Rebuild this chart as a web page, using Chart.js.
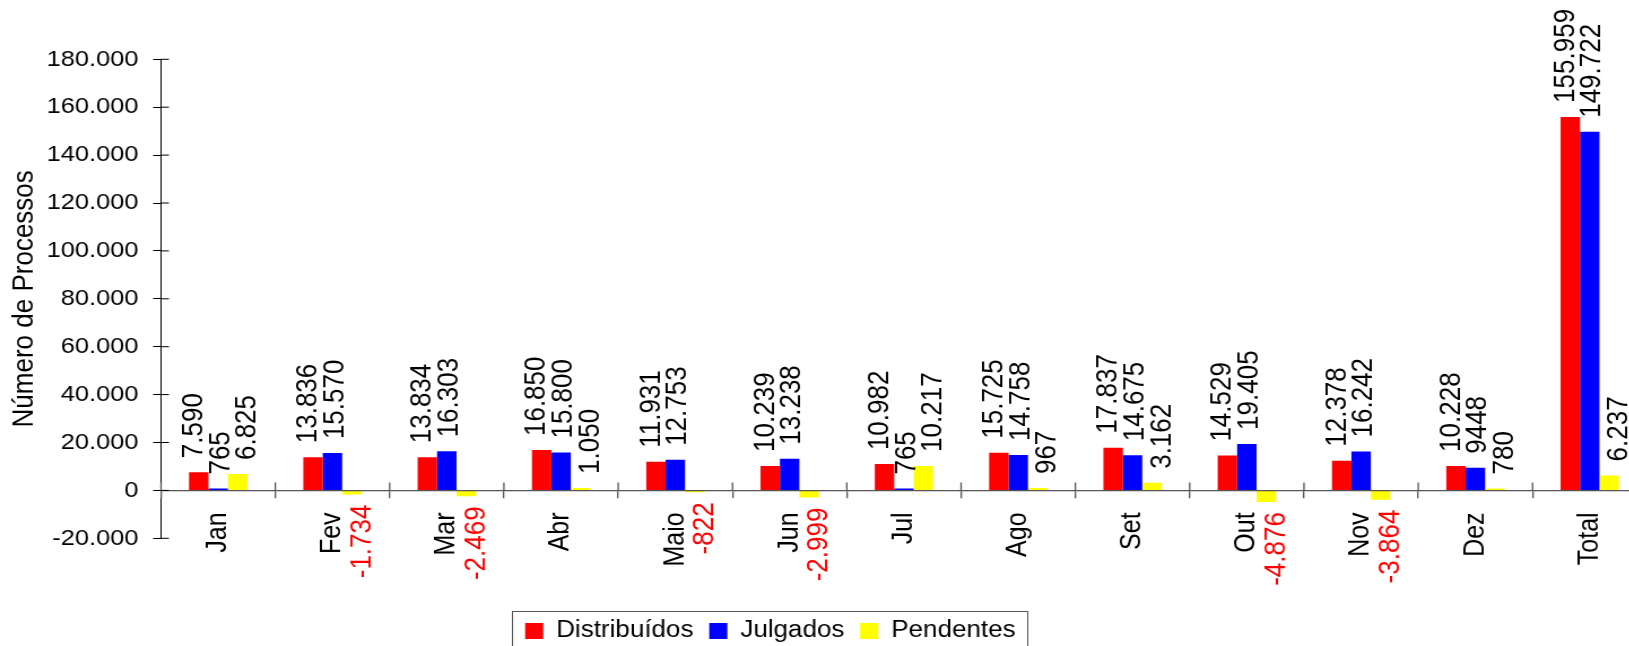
<!DOCTYPE html>
<html><head><meta charset="utf-8">
<script src="https://cdn.jsdelivr.net/npm/chart.js@4.4.1/dist/chart.umd.min.js"></script>
<style>
html,body{margin:0;padding:0;overflow:hidden;background:#fff;}
#wrap{width:1470px;height:680px;transform:scaleX(1.13);transform-origin:0 0;}
</style></head><body>
<div id="wrap"><canvas id="c" width="1470" height="680"></canvas></div>
<script>
const categories = ['Jan','Fev','Mar','Abr','Maio','Jun','Jul','Ago','Set','Out','Nov','Dez','Total'];
const distribuidos = [7590,13836,13834,16850,11931,10239,10982,15725,17837,14529,12378,10228,155959];
const julgados = [765,15570,16303,15800,12753,13238,765,14758,14675,19405,16242,9448,149722];
const pendentes = [6825,-1734,-2469,1050,-822,-2999,10217,967,3162,-4876,-3864,780,6237];
const seriesNames = ['Distribuídos','Julgados','Pendentes'];
const yMin = -20000, yMax = 180000, yStep = 20000;

const FONT = '"Liberation Sans", Arial, Helvetica, sans-serif';
Chart.defaults.font.family = FONT;
Chart.defaults.color = '#000';

function fmt(v){
  const s = Math.abs(Math.round(v)).toString().replace(/\B(?=(\d{3})+(?!\d))/g, '.');
  return (v < 0 ? '-' : '') + s;
}
const shownText = [distribuidos.map(fmt), julgados.map(fmt), pendentes.map(fmt)];
shownText[1][11] = '9448'; // printed without separator in the source

// horizontal nudge of each series' value labels (style only)
const labelNudge = [-4, 2.5, 9];

const valueLabels = {
  id: 'valueLabels',
  afterDatasetsDraw(chart){
    const ctx = chart.ctx;
    ctx.save();
    ctx.font = '26px ' + FONT;
    ctx.textBaseline = 'middle';
    chart.data.datasets.forEach((ds, i) => {
      const meta = chart.getDatasetMeta(i);
      meta.data.forEach((el, j) => {
        const v = ds.data[j];
        ctx.save();
        if (v >= 0) {
          ctx.translate(el.x + labelNudge[i], el.y - 14);
          ctx.rotate(-Math.PI / 2);
          ctx.textAlign = 'left';
          ctx.fillStyle = '#000';
        } else {
          ctx.translate(el.x + labelNudge[i], el.y + 10);
          ctx.rotate(-Math.PI / 2);
          ctx.textAlign = 'right';
          ctx.fillStyle = '#ff0000';
        }
        ctx.fillText(shownText[i][j], 0, 0);
        ctx.restore();
      });
    });
    ctx.restore();
  }
};

const innerTicks = {
  id: 'innerTicks',
  afterDraw(chart){
    const {ctx, chartArea, scales} = chart;
    const x = scales.x, y = scales.y;
    ctx.save();
    ctx.lineWidth = 1; ctx.strokeStyle = '#000';
    y.ticks.forEach(t => {
      const py = y.getPixelForValue(t.value);
      ctx.beginPath(); ctx.moveTo(chartArea.left, py); ctx.lineTo(chartArea.left + 7, py); ctx.stroke();
    });
    const zy = y.getPixelForValue(0);
    const half = (x.getPixelForValue(1) - x.getPixelForValue(0)) / 2;
    ctx.strokeStyle = '#555'; ctx.lineWidth = 1.3;
    for (let i = 0; i <= categories.length; i++) {
      const px = x.getPixelForValue(i) - half;
      ctx.beginPath(); ctx.moveTo(px, zy - 8); ctx.lineTo(px, zy); ctx.stroke();
    }
    ctx.restore();
  }
};

const LEGEND_SHIFT = -47;
const legendFrame = {
  id: 'legendFrame',
  afterLayout(chart){
    const lg = chart.legend;
    if (lg) { lg.left += LEGEND_SHIFT; lg.right += LEGEND_SHIFT; }
  },
  afterDraw(chart){
    const lg = chart.legend;
    if (!lg || !lg.legendHitBoxes || !lg.legendHitBoxes.length) return;
    const hb = lg.legendHitBoxes;
    const l = hb[0].left - 12;
    const r = hb[hb.length - 1].left + hb[hb.length - 1].width + 10;
    const t = lg.top + 14 + 11.5 - 20;
    const ctx = chart.ctx;
    ctx.save();
    ctx.strokeStyle = '#555'; ctx.lineWidth = 1;
    ctx.strokeRect(Math.round(l) + 0.5, Math.round(t) + 0.5, Math.round(r - l), 50);
    ctx.restore();
  }
};

new Chart(document.getElementById('c'), {
  type: 'bar',
  data: {
    labels: categories,
    datasets: [
      {label: seriesNames[0], data: distribuidos, backgroundColor: '#ff0000', xAxisID: 'x', yAxisID: 'y'},
      {label: seriesNames[1], data: julgados, backgroundColor: '#0000ff', xAxisID: 'x', yAxisID: 'y'},
      {label: seriesNames[2], data: pendentes, backgroundColor: '#ffff00', xAxisID: 'x', yAxisID: 'y'}
    ]
  },
  options: {
    responsive: false,
    animation: false,
    datasets: {bar: {categoryPercentage: 0.51, barPercentage: 1.0, borderWidth: 0}},
    layout: {padding: {top: 59.3, left: 0, right: 12.6, bottom: 27.5}},
    plugins: {
      tooltip: {enabled: false},
      legend: {
        position: 'bottom',
        labels: {boxWidth: 16, boxHeight: 16, padding: 14, color: '#000', font: {size: 23, family: FONT}}
      }
    },
    scales: {
      x: {
        type: 'category',
        position: {y: 0},
        grid: {display: true, drawOnChartArea: false, drawTicks: true, tickLength: 7, color: '#555', lineWidth: 1.3, offset: true, z: 1},
        border: {display: true, color: '#555', width: 1.3, z: 1},
        ticks: {minRotation: 90, maxRotation: 90, autoSkip: false, padding: 15, color: '#000', font: {size: 25, family: FONT}}
      },
      x2: {
        type: 'category',
        position: 'bottom',
        display: true,
        grid: {display: false, drawTicks: false},
        border: {display: false},
        ticks: {display: false},
        afterFit(s){ s.height = 67.2; }
      },
      y: {
        min: yMin, max: yMax,
        ticks: {stepSize: yStep, padding: 13, color: '#000', font: {size: 22.5, family: FONT}, callback: v => fmt(v)},
        grid: {drawOnChartArea: false, drawTicks: true, tickLength: 7, color: '#000', lineWidth: 1},
        border: {display: true, color: '#000', width: 1},
        title: {display: true, text: 'Número de Processos', color: '#000', font: {size: 26, family: FONT}, padding: {top: 6, bottom: 0}},
        afterFit(s){ s.width = 142.5; }
      }
    }
  },
  plugins: [valueLabels, innerTicks, legendFrame]
});
</script>
</body></html>
